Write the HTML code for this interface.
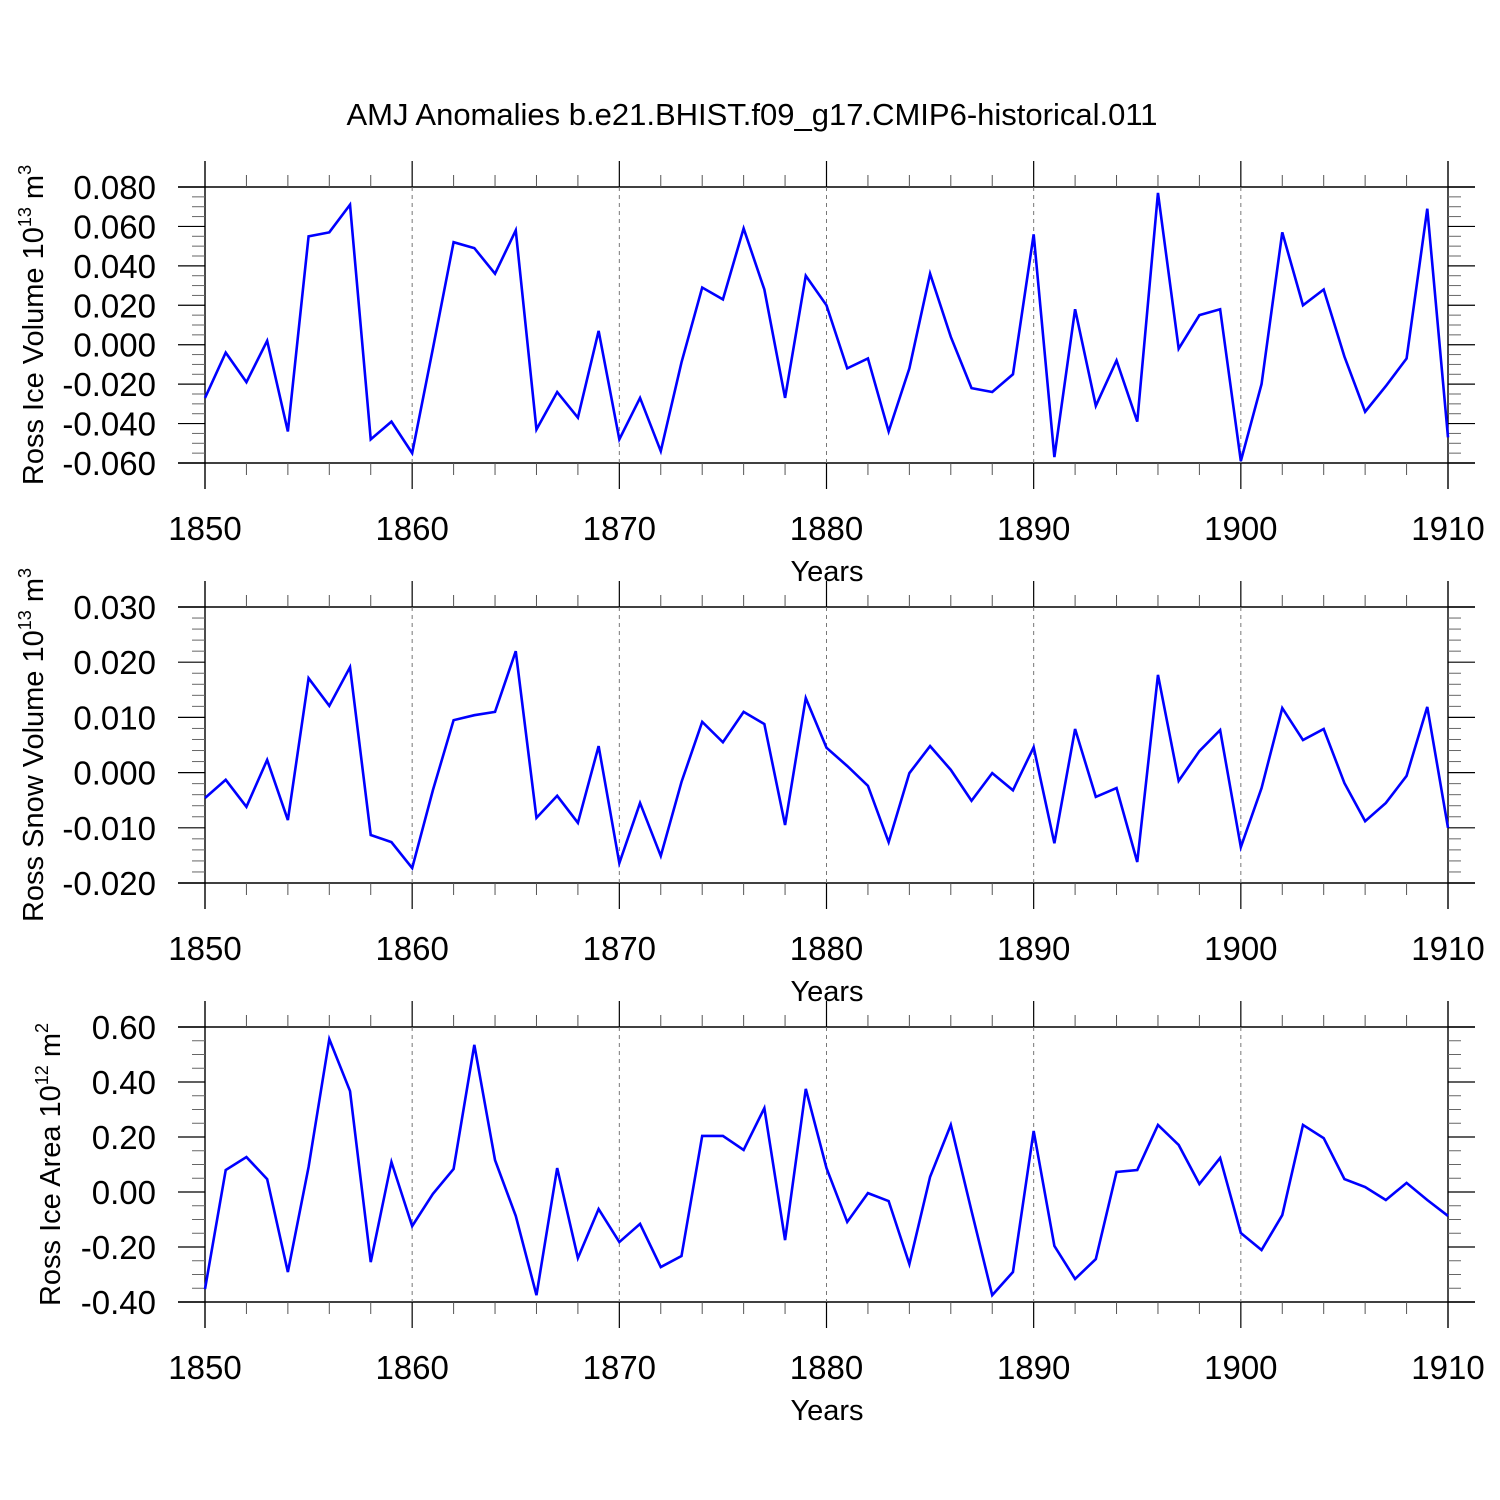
<!DOCTYPE html>
<html><head><meta charset="utf-8"><style>
html,body{margin:0;padding:0;background:#fff;}
svg{display:block;font-family:"Liberation Sans",sans-serif;}
</style></head><body>
<svg id="chart" width="1500" height="1500" viewBox="0 0 1500 1500" xmlns="http://www.w3.org/2000/svg">
<text x="752" y="125" font-size="31" text-anchor="middle">AMJ Anomalies b.e21.BHIST.f09_g17.CMIP6-historical.011</text>
</svg>
<script>
const years = [];
for (let y = 1850; y <= 1910; y++) years.push(y);
const iceVolume = [-0.027,-0.004,-0.019,0.002,-0.044,0.055,0.057,0.071,-0.048,-0.039,-0.055,-0.002,0.052,0.049,0.036,0.058,-0.043,-0.024,-0.037,0.007,-0.048,-0.027,-0.054,-0.009,0.029,0.023,0.059,0.028,-0.027,0.035,0.020,-0.012,-0.007,-0.044,-0.012,0.036,0.004,-0.022,-0.024,-0.015,0.056,-0.057,0.018,-0.031,-0.008,-0.039,0.077,-0.002,0.015,0.018,-0.059,-0.020,0.057,0.020,0.028,-0.006,-0.034,-0.021,-0.007,0.069,-0.047];
const snowVolume = [-0.0046,-0.0013,-0.0062,0.0023,-0.0086,0.0171,0.0121,0.0191,-0.0113,-0.0126,-0.0173,-0.0032,0.0095,0.0104,0.0110,0.0220,-0.0082,-0.0042,-0.0091,0.0048,-0.0164,-0.0055,-0.0151,-0.0017,0.0092,0.0055,0.0110,0.0088,-0.0095,0.0135,0.0045,0.0012,-0.0024,-0.0126,-0.0001,0.0048,0.0005,-0.0051,-0.0001,-0.0032,0.0046,-0.0128,0.0079,-0.0044,-0.0028,-0.0162,0.0177,-0.0015,0.0039,0.0077,-0.0135,-0.0028,0.0117,0.0059,0.0079,-0.0019,-0.0088,-0.0055,-0.0006,0.0119,-0.0100];
const iceArea = [-0.353,0.080,0.127,0.047,-0.291,0.091,0.556,0.367,-0.255,0.109,-0.124,-0.007,0.084,0.535,0.116,-0.087,-0.375,0.087,-0.240,-0.062,-0.182,-0.116,-0.273,-0.233,0.204,0.204,0.153,0.305,-0.175,0.375,0.087,-0.109,-0.004,-0.033,-0.262,0.055,0.244,-0.069,-0.375,-0.291,0.222,-0.196,-0.316,-0.244,0.073,0.080,0.244,0.171,0.029,0.124,-0.149,-0.211,-0.084,0.244,0.196,0.047,0.018,-0.029,0.033,-0.029,-0.087];
const xTickLabels = ["1850","1860","1870","1880","1890","1900","1910"];
const yTicks1 = [0.080,0.060,0.040,0.020,0.000,-0.020,-0.040,-0.060];
const yTicks2 = [0.030,0.020,0.010,0.000,-0.010,-0.020];
const yTicks3 = [0.60,0.40,0.20,0.00,-0.20,-0.40];

const NS = "http://www.w3.org/2000/svg";
const svg = document.getElementById("chart");
function mk(tag, attrs, parent){const e=document.createElementNS(NS,tag);for(const k in attrs)e.setAttribute(k,attrs[k]);(parent||svg).appendChild(e);return e;}

const X0=205, X1=1448, FL=178, FR=1475;
function xs(yr){return X0+(yr-1850)/(60)*(X1-X0);}

function panel(idx, top, bottom, ymax, ymin, ticks, minorStep, dec, data, titleMain, sup, supEnd, titleX){
  const g = mk("g",{});
  
  
  const ys = v => top + (ymax-v)/(ymax-ymin)*(bottom-top);
  for (const yy of [top,bottom]) mk("line",{x1:FL,x2:FR,y1:yy,y2:yy,stroke:"#000","stroke-width":1.4},g);
  for (const xx of [X0,X1]) mk("line",{x1:xx,x2:xx,y1:top-26,y2:bottom+26,stroke:"#000","stroke-width":1.4},g);
  for (let yr=1852; yr<1910; yr+=2){
    const x=xs(yr);
    if (yr%10===0){
      mk("line",{x1:x,x2:x,y1:top-26,y2:top,stroke:"#000","stroke-width":1.2},g);
      mk("line",{x1:x,x2:x,y1:bottom,y2:bottom+26,stroke:"#000","stroke-width":1.2},g);
      mk("line",{x1:x,x2:x,y1:top,y2:bottom,stroke:"#777","stroke-width":1,"stroke-dasharray":"4,4"},g);
    } else {
      mk("line",{x1:x,x2:x,y1:top-12,y2:top,stroke:"#555","stroke-width":1},g);
      mk("line",{x1:x,x2:x,y1:bottom,y2:bottom+12,stroke:"#555","stroke-width":1},g);
    }
  }
  const nmin = Math.round((ymax-ymin)/minorStep);
  for (let i=0;i<=nmin;i++){
    const v=ymax-i*minorStep, y=ys(v);
    const major = ticks.some(t=>Math.abs(t-v)<minorStep/10);
    if (major){
      mk("line",{x1:FL,x2:X0,y1:y,y2:y,stroke:"#000","stroke-width":1.2},g);
      mk("line",{x1:X1,x2:FR,y1:y,y2:y,stroke:"#000","stroke-width":1.2},g);
    } else {
      mk("line",{x1:X0-13,x2:X0,y1:y,y2:y,stroke:"#666","stroke-width":1},g);
      mk("line",{x1:X1,x2:X1+13,y1:y,y2:y,stroke:"#666","stroke-width":1},g);
    }
  }
  ticks.forEach(t=>{
    const tx=mk("text",{x:156,y:ys(t)+12,"font-size":33,"text-anchor":"end"},g);
    
    
    tx.textContent=t.toFixed(dec);
  });
  xTickLabels.forEach(l=>{
    const tx=mk("text",{x:xs(+l),y:bottom+77,"font-size":33,"text-anchor":"middle"},g);
    
    
    tx.textContent=l;
  });
  const xt=mk("text",{x:827,y:bottom+118,"font-size":29,"text-anchor":"middle"},g);
  
  
  xt.textContent="Years";
  const cy=(top+bottom)/2;
  const yt=mk("text",{x:0,y:0,"font-size":29,"text-anchor":"middle",transform:"translate("+titleX+","+cy+") rotate(-90)"},g);
  
  
  const s1=document.createElementNS(NS,"tspan");s1.textContent=titleMain;yt.appendChild(s1);
  const s2=document.createElementNS(NS,"tspan");s2.setAttribute("dy","-12");s2.setAttribute("font-size","18");s2.textContent=sup;yt.appendChild(s2);
  const s3=document.createElementNS(NS,"tspan");s3.setAttribute("dy","12");s3.textContent=" m";yt.appendChild(s3);
  const s4=document.createElementNS(NS,"tspan");s4.setAttribute("dy","-12");s4.setAttribute("font-size","18");s4.textContent=supEnd;yt.appendChild(s4);
  const pts=data.map((v,i)=>xs(years[i]).toFixed(2)+","+ys(v).toFixed(2)).join(" ");
  const pl=mk("polyline",{points:pts,fill:"none",stroke:"#0000ff","stroke-width":2.6,"stroke-linejoin":"miter"},g);
  
  
}
panel(1,187,463,0.080,-0.060,yTicks1,0.005,3,iceVolume,"Ross Ice Volume 10","13","3",43);
panel(2,607,883,0.030,-0.020,yTicks2,0.002,3,snowVolume,"Ross Snow Volume 10","13","3",43);
panel(3,1027,1302,0.60,-0.40,yTicks3,0.05,2,iceArea,"Ross Ice Area 10","12","2",60);
</script>
</body></html>
